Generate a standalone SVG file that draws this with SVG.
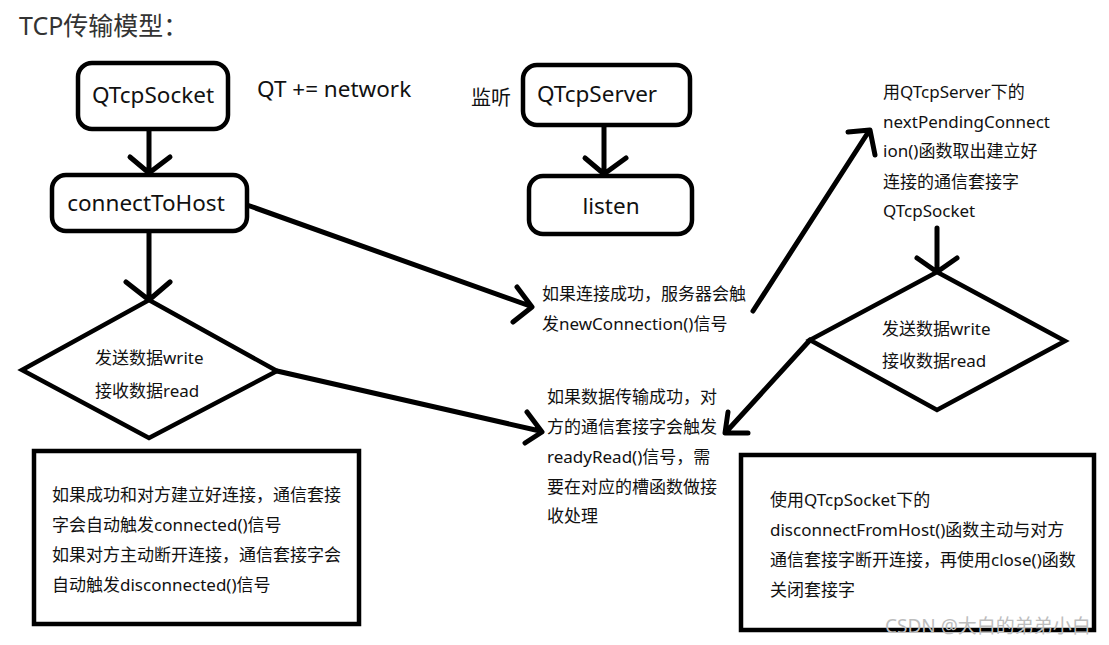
<svg xmlns="http://www.w3.org/2000/svg" width="1109" height="645" viewBox="0 0 1109 645">
<style>
.box{fill:#fff;stroke:#000;stroke-width:4.5}
.ln{fill:none;stroke:#000;stroke-width:5;stroke-linecap:round;stroke-linejoin:round}
text{font-family:"Noto Sans","Noto Sans CJK SC",sans-serif;fill:#111}
.big{font-size:22.5px}
.sm{font-size:17px}
</style>
<rect width="1109" height="645" fill="#fff"/>
<text x="19" y="35" style="font-size:25px;fill:#333">TCP传输模型：</text>
<text x="257" y="97" class="big">QT += network</text>
<text x="471" y="105" style="font-size:20px">监听</text>

<g id="connectors">
<path class="ln" d="M149 129 V172 M130 157 L149 173 L170 157"/>
<path class="ln" d="M604 125 V173 M585 158 L604 174 L626 158"/>
<path class="ln" d="M149 231 V299 M126 282 L149 300 L170 282"/>
<path class="ln" d="M247 205 L530 306 M517 287 L532 307 L513 322"/>
<path class="ln" d="M753 311 L869 131 M848 132 L870 130 L875 155"/>
<path class="ln" d="M937 228 V271 M917 258 L937 272 L957 258"/>
<path class="ln" d="M810 340 L727 431 M728 412 L725 433 L748 433"/>
<path class="ln" d="M277 371 L540 431 M527 412 L542 432 L525 443"/>
</g>

<g id="n-qtcpsocket">
<rect class="box" x="78" y="63" width="150" height="66" rx="14"/>
<text x="153" y="103" class="big" text-anchor="middle">QTcpSocket</text>
</g>
<g id="n-connecttohost">
<rect class="box" x="52" y="175" width="195" height="56" rx="14"/>
<text x="146" y="211" class="big" text-anchor="middle">connectToHost</text>
</g>
<g id="n-qtcpserver">
<rect class="box" x="523" y="65" width="167" height="60" rx="14"/>
<text x="597" y="102" class="big" text-anchor="middle">QTcpServer</text>
</g>
<g id="n-listen">
<rect class="box" x="529" y="176" width="163" height="58" rx="14"/>
<text x="611" y="214" class="big" text-anchor="middle">listen</text>
</g>
<g id="n-diamond-left">
<polygon class="box" points="149,300 277,371 149,438 22,370"/>
<text x="95" y="364" class="sm">发送数据write</text>
<text x="95" y="397" class="sm">接收数据read</text>
</g>
<g id="n-diamond-right">
<polygon class="box" points="937,272 1065,341 937,410 810,340"/>
<text x="882" y="335" class="sm">发送数据write</text>
<text x="882" y="367" class="sm">接收数据read</text>
</g>
<g id="n-newconn">
<text x="542" y="300" class="sm">如果连接成功，服务器会触</text>
<text x="542" y="330" class="sm">发newConnection()信号</text>
</g>
<g id="n-pending">
<text x="883" y="98" class="sm">用QTcpServer下的</text>
<text x="883" y="128" class="sm">nextPendingConnect</text>
<text x="883" y="157" class="sm">ion()函数取出建立好</text>
<text x="883" y="188" class="sm">连接的通信套接字</text>
<text x="883" y="217" class="sm">QTcpSocket</text>
</g>
<g id="n-readyread">
<text x="547" y="403" class="sm">如果数据传输成功，对</text>
<text x="547" y="433" class="sm">方的通信套接字会触发</text>
<text x="547" y="463" class="sm">readyRead()信号，需</text>
<text x="547" y="493" class="sm">要在对应的槽函数做接</text>
<text x="547" y="522" class="sm">收处理</text>
</g>
<g id="n-box-left">
<rect class="box" x="34" y="451" width="325" height="173"/>
<text x="52" y="501" class="sm">如果成功和对方建立好连接，通信套接</text>
<text x="52" y="531" class="sm">字会自动触发connected()信号</text>
<text x="52" y="561" class="sm">如果对方主动断开连接，通信套接字会</text>
<text x="52" y="591" class="sm">自动触发disconnected()信号</text>
</g>
<g id="n-box-right">
<rect class="box" x="741" y="455" width="353" height="175"/>
<text x="770" y="506" class="sm">使用QTcpSocket下的</text>
<text x="770" y="536" class="sm">disconnectFromHost()函数主动与对方</text>
<text x="770" y="566" class="sm">通信套接字断开连接，再使用close()函数</text>
<text x="770" y="596" class="sm">关闭套接字</text>
</g>
<text x="885" y="633" style="font-size:19px;fill:#bdbdbd">CSDN @大白的弟弟小白</text>
</svg>
